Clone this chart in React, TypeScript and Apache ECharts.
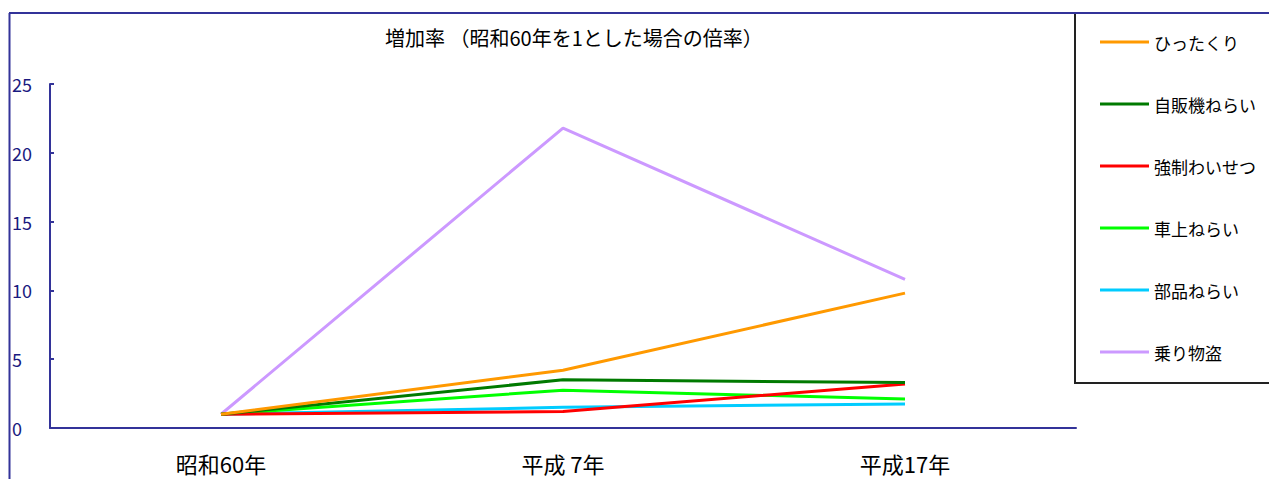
import React, { useEffect, useRef } from "react";
import * as echarts from "echarts";

const categories = ["昭和60年", "平成 7年", "平成17年"];
const seriesNames = ["ひったくり", "自販機ねらい", "強制わいせつ", "車上ねらい", "部品ねらい", "乗り物盗"];
const hittakuri = [1, 4.2, 9.8];
const jihanki = [1, 3.5, 3.3];
const kyouseiwaisetsu = [1, 1.2, 3.2];
const shajou = [1, 2.75, 2.1];
const buhin = [1, 1.5, 1.75];
const norimono = [1, 21.8, 10.8];
const yTicks = { min: 0, max: 25, interval: 5 };
const titleText = "増加率 （昭和60年を1とした場合の倍率）";

const colors = ["#FF9900", "#007A00", "#FF0000", "#00FF00", "#00CCFF", "#CC99FF"];
const FONT = "'Noto Sans CJK JP', sans-serif";

export default function App() {
  const ref = useRef<HTMLDivElement>(null);
  useEffect(() => {
    if (!ref.current) return;
    const chart = echarts.init(ref.current, null, { renderer: "svg" });
    const dataSets = [hittakuri, jihanki, kyouseiwaisetsu, shajou, buhin, norimono];
    const series = seriesNames.map((name, i) => ({
      name,
      type: "line",
      data: dataSets[i],
      showSymbol: false,
      symbol: "none",
      lineStyle: { color: colors[i], width: 3 },
      itemStyle: { color: colors[i] },
      z: i === 5 ? 1 : 2 + (5 - i),
    }));
    chart.setOption({
      animation: false,
      backgroundColor: "#ffffff",
      textStyle: { fontFamily: FONT },
      title: {
        text: titleText,
        left: 377,
        top: 19,
        padding: 0,
        textStyle: { fontSize: 20, fontWeight: "normal", color: "#000", fontFamily: FONT },
      },
      legend: {
        orient: "vertical",
        left: 1087,
        top: 19,
        itemWidth: 49,
        itemHeight: 3,
        itemGap: 42,
        icon: "rect",
        textStyle: { fontSize: 17, color: "#000", lineHeight: 20, fontFamily: FONT },
        data: seriesNames.map((n, i) => ({ name: n, itemStyle: { color: colors[i] } })),
      },
      grid: { left: 42, right: 201, top: 76, bottom: 51, containLabel: false },
      xAxis: {
        type: "category",
        data: categories,
        boundaryGap: true,
        axisLine: { lineStyle: { color: "#333399", width: 2 } },
        axisTick: { inside: true, length: 8, lineStyle: { color: "#333399", width: 2 } },
        axisLabel: { fontSize: 22, color: "#000", margin: 24, fontFamily: FONT },
        splitLine: { show: false },
      },
      yAxis: {
        type: "value",
        min: yTicks.min,
        max: yTicks.max,
        interval: yTicks.interval,
        axisLine: { show: true, lineStyle: { color: "#333399", width: 2 } },
        axisTick: { show: true, inside: true, length: 4, lineStyle: { color: "#333399", width: 2 } },
        axisLabel: { fontSize: 18, color: "#1a1a80", margin: 38, align: "left", fontFamily: FONT },
        splitLine: { show: false },
      },
      graphic: [
        { type: "line", shape: { x1: 1, y1: 5, x2: 1269, y2: 5 }, style: { stroke: "#333399", lineWidth: 2 }, z: 10 },
        { type: "line", shape: { x1: 1.5, y1: 5, x2: 1.5, y2: 471 }, style: { stroke: "#333399", lineWidth: 2 }, z: 10 },
        { type: "rect", shape: { x: 1067, y: 5, width: 240, height: 370 }, style: { fill: "none", stroke: "#222222", lineWidth: 2 }, z: 9 },
      ],
      series,
    });
    return () => chart.dispose();
  }, []);
  return <div ref={ref} style={{ width: 1269, height: 471 }} />;
}
